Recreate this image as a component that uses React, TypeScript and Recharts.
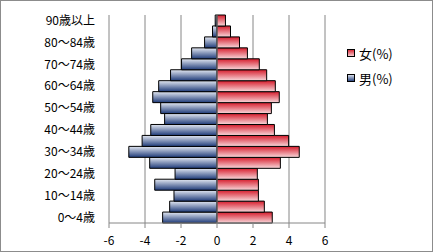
import { BarChart, Bar, XAxis, YAxis, CartesianGrid, ReferenceLine } from "recharts";

// 年齢階級（下から上へ）
const ages = [
  "0～4歳", "5～9歳", "10～14歳", "15～19歳", "20～24歳", "25～29歳", "30～34歳",
  "35～39歳", "40～44歳", "45～49歳", "50～54歳", "55～59歳", "60～64歳", "65～69歳",
  "70～74歳", "75～79歳", "80～84歳", "85～89歳", "90歳以上",
];
const male = [
  3.02, 2.63, 2.39, 3.46, 2.33, 3.74, 4.9, 4.16, 3.68, 2.91, 3.13, 3.57, 3.24, 2.58,
  1.97, 1.41, 0.69, 0.25, 0.1,
];
const female = [
  3.07, 2.63, 2.3, 2.3, 2.24, 3.52, 4.57, 3.98, 3.19, 2.8, 3.02, 3.46, 3.24, 2.76,
  2.35, 1.69, 1.25, 0.75, 0.47,
];
const xTicks = [-6, -4, -2, 0, 2, 4, 6];

// male is drawn on the left, so negate it here
const data = ages.map((age, i) => ({ age, male: -male[i], female: female[i] }));

const FONT = '"Noto Sans CJK JP", "Noto Sans", sans-serif';

function PyramidLegend() {
  const items = [
    { label: "女(%)", fill: "url(#gradF)" },
    { label: "男(%)", fill: "url(#gradM)" },
  ];
  return (
    <div style={{ position: "absolute", left: 347, top: 41, fontFamily: FONT, fontSize: 13, color: "#000" }}>
      {items.map((it) => (
        <div key={it.label} style={{ display: "flex", alignItems: "center", height: 25 }}>
          <svg width={9} height={9} style={{ marginRight: 3 }}>
            <rect x={0.5} y={0.5} width={7} height={7} fill={it.fill} stroke="#000" />
          </svg>
          <span>{it.label}</span>
        </div>
      ))}
    </div>
  );
}

export default function App() {
  return (
    <div style={{ position: "absolute", left: 0, top: 0, width: 433, height: 252, background: "#fff" }}>
      <BarChart
        width={433}
        height={252}
        data={data}
        layout="vertical"
        stackOffset="sign"
        barCategoryGap={0}
        margin={{ top: 15, right: 108, bottom: 4, left: 9 }}
        style={{ fontFamily: FONT }}
      >
        <defs>
          <linearGradient id="gradM" x1="0" y1="0" x2="0" y2="1">
            <stop offset="0%" stopColor="#e4e9f3" />
            <stop offset="100%" stopColor="#1e3a78" />
          </linearGradient>
          <linearGradient id="gradF" x1="0" y1="0" x2="0" y2="1">
            <stop offset="0%" stopColor="#d61c2c" />
            <stop offset="100%" stopColor="#f8d8db" />
          </linearGradient>
        </defs>
        <CartesianGrid horizontal={false} stroke="#868686" />
        <XAxis
          type="number"
          domain={[-6, 6]}
          ticks={xTicks}
          stroke="#868686"
          tickSize={5}
          tickMargin={8}
          tick={{ fill: "#000", fontSize: 12 }}
          height={25}
        />
        <YAxis
          type="category"
          dataKey="age"
          reversed
          interval={1}
          width={100}
          axisLine={false}
          tickLine={false}
          tickSize={0}
          tickMargin={14}
          tick={{ fill: "#000", fontSize: 12 }}
        />
        <ReferenceLine x={0} stroke="#868686" />
        <Bar dataKey="male" stackId="p" fill="url(#gradM)" stroke="#000" strokeWidth={1} isAnimationActive={false} />
        <Bar dataKey="female" stackId="p" fill="url(#gradF)" stroke="#000" strokeWidth={1} isAnimationActive={false} />
      </BarChart>
      <PyramidLegend />
      <div
        style={{
          position: "absolute",
          inset: 0,
          border: "1px solid #8c8c8c",
          pointerEvents: "none",
        }}
      />
    </div>
  );
}
